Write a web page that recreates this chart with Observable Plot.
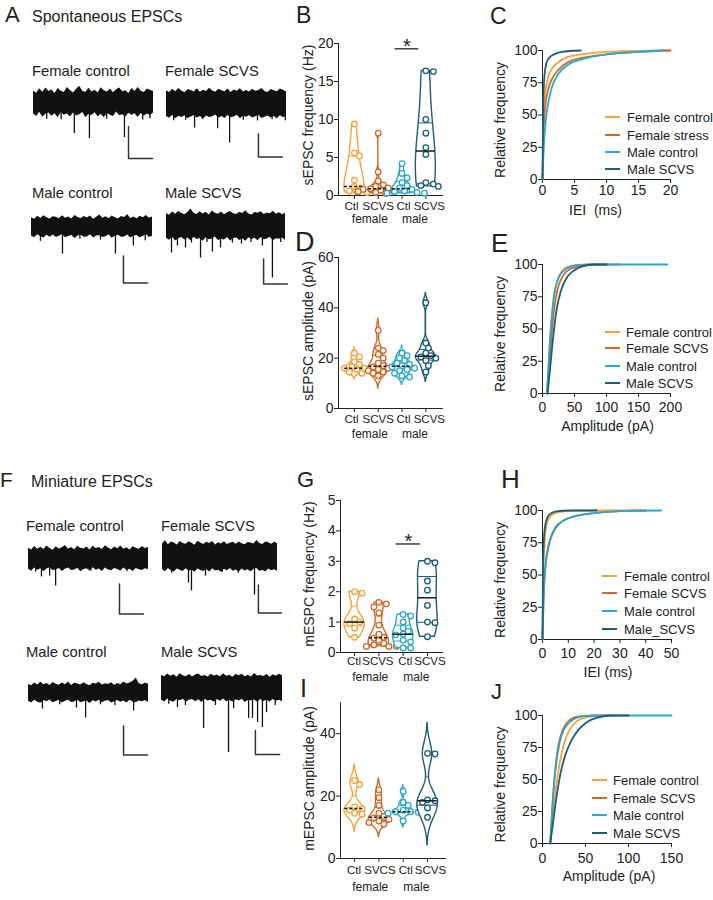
<!DOCTYPE html>
<html><head><meta charset="utf-8">
<script src="https://cdn.jsdelivr.net/npm/d3@7"></script>
<script src="https://cdn.jsdelivr.net/npm/@observablehq/plot@0.6"></script>
<style>
html,body{margin:0;padding:0;background:#fff;}
#fig{position:relative;width:713px;height:900px;overflow:hidden;background:#fff;font-family:"Liberation Sans",Arial,Helvetica,sans-serif;color:#222;}
.abs{position:absolute;line-height:1;white-space:pre;}
</style></head>
<body><div id="fig"></div>
<script>
// ================= DATA =================
const groupNames = ["Female control", "Female SCVS", "Male control", "Male SCVS"];
const catLabels = ["Ctl", "SCVS", "Ctl", "SCVS"];
const catLabelsI = ["Ctl", "SVCS", "Ctl", "SCVS"];
const sexLabels = ["female", "male"];
const legC = ["Female control", "Female stress", "Male control", "Male SCVS"];
const legE = ["Female control", "Female SCVS", "Male control", "Male SCVS"];
const legH = ["Female control", "Female SCVS", "Male control", "Male_SCVS"];
const legJ = ["Female control", "Female SCVS", "Male control", "Male SCVS"];

// B: sEPSC frequency (Hz)
const sFreqFemCtl = [9.4, 5.6, 5.2, 2.0, 1.2, 1.0, 0.6, 0.5, 0.4];
const sFreqFemSCVS = [8.2, 3.1, 1.9, 1.4, 1.2, 1.0, 0.9, 0.8, 0.7, 0.6, 0.5, 0.4, 0.3];
const sFreqMaleCtl = [4.2, 2.9, 2.3, 1.7, 1.3, 1.0, 0.8, 0.6, 0.5, 0.4, 0.3, 0.3];
const sFreqMaleSCVS = [16.4, 16.3, 10.0, 8.2, 6.3, 5.4, 1.7, 1.5, 1.3, 1.2];
// D: sEPSC amplitude (pA)
const sAmpFemCtl = [22, 20.5, 18.5, 17.5, 16.5, 16, 16, 15.5, 15, 14.5, 14];
const sAmpFemSCVS = [31, 24, 23, 21.5, 20, 18, 17, 16.5, 16, 15.5, 15, 14.5, 14, 13];
const sAmpMaleCtl = [22, 21, 20, 19, 18, 17.5, 17, 16.5, 16, 15.5, 15, 14, 13, 12.5];
const sAmpMaleSCVS = [42, 26, 24, 22, 21, 20.5, 20, 19, 17, 14.5];
// G: mEPSC frequency (Hz)
const mFreqFemCtl = [2.0, 1.95, 1.1, 1.0, 0.95, 0.8, 0.5];
const mFreqFemSCVS = [1.65, 1.6, 1.5, 1.3, 0.9, 0.6, 0.5, 0.47, 0.4, 0.3, 0.25, 0.2, 0.2, 0.2];
const mFreqMaleCtl = [1.25, 1.2, 1.0, 0.8, 0.7, 0.6, 0.58, 0.4, 0.35, 0.15, 0.15];
const mFreqMaleSCVS = [3.0, 2.95, 2.35, 2.05, 1.55, 1.0, 0.98, 0.52];
// I: mEPSC amplitude (pA)
const mAmpFemCtl = [25, 23.7, 16.5, 16, 15.5, 14.5, 14.2];
const mAmpFemSCVS = [22, 19.5, 17, 14.5, 13.5, 13, 12.5, 12, 11.5, 11];
const mAmpMaleCtl = [21.5, 18, 17, 15.5, 15, 15, 14.8, 14.5, 12];
const mAmpMaleSCVS = [33.7, 33.5, 18.8, 18.5, 18, 16.2, 13.2];

// Cumulative distributions [value, relative frequency %]
const cIEI_fc = [[0,0],[0.15,40],[0.4,65],[0.8,78],[1.5,86],[2.5,91],[4,95],[6,97],[10,99],[20,100]];
const cIEI_fs = [[0,0],[0.15,35],[0.4,55],[0.8,68],[1.5,78],[2.5,85],[4,91],[6,94],[10,97],[15,99],[20,100]];
const cIEI_mc = [[0,0],[0.2,25],[0.5,45],[1,62],[1.5,72],[2.5,82],[4,89],[6,93],[10,97],[15,99],[19,100]];
const cIEI_ms = [[0,0],[0.1,55],[0.3,80],[0.6,90],[1,94],[1.8,97],[3,99],[6,100]];

const eAmp_fc = [[7,0],[10,25],[14,55],[18,75],[23,87],[28,93],[35,97],[50,99.5],[70,100],[100,100]];
const eAmp_fs = [[7,0],[11,22],[15,50],[20,72],[26,85],[33,92],[45,97],[60,99],[90,100],[120,100]];
const eAmp_mc = [[7,0],[10,28],[14,57],[18,76],[23,87],[29,93],[38,97],[55,99.5],[80,100],[195,100]];
const eAmp_ms = [[8,0],[12,20],[17,45],[22,65],[29,80],[37,89],[48,95],[62,98.5],[80,100],[100,100]];

const hIEI_fc = [[0,0],[0.3,50],[0.8,75],[1.5,88],[2.5,94],[4,97],[7,99],[15,100],[40,100]];
const hIEI_fs = [[0,0],[0.4,30],[1,52],[2,68],[3,77],[5,86],[8,92],[12,95],[20,98],[30,99.5],[40,100]];
const hIEI_mc = [[0,0],[0.4,32],[1,55],[2,70],[3,78],[5,87],[8,92],[12,95.5],[20,98],[30,99.5],[46,100]];
const hIEI_ms = [[0,0],[0.2,55],[0.6,80],[1.2,90],[2,95],[3.5,98],[6,99.5],[10,100],[21,100]];

const jAmp_fc = [[9,0],[12,20],[16,45],[20,63],[25,78],[30,87],[36,93],[45,97.5],[60,99.5],[80,100]];
const jAmp_fs = [[9,0],[11,25],[14,52],[18,75],[23,88],[28,94],[35,98],[45,99.5],[60,100],[80,100]];
const jAmp_mc = [[9,0],[11,22],[14,50],[18,72],[23,86],[29,93],[36,97],[48,99.5],[70,100],[150,100]];
const jAmp_ms = [[9,0],[12,15],[16,35],[21,55],[27,70],[34,81],[42,89],[52,95],[65,98.5],[80,100],[100,100]];

// Example traces (pA): noise envelope (upper / lower edge) sampled evenly over 5 s, and events [t (s), pA]
const trA1_top = [7.2,5.8,8.6,6.4,9.0,6.9,7.8,5.6,8.8,7.1,6.2,9.4,7.5,6.0,8.3,10.1,7.0,6.3,8.9,6.6,7.7,5.9,9.2,7.3,6.5,8.4,6.1,7.9,9.1,6.7,7.4,5.7,8.7,6.8,9.3,7.0,6.2,8.5,7.6,6.9];
const trA1_bot = [-7.0,-8.8,-6.1,-9.2,-7.4,-6.5,-8.6,-7.1,-9.5,-6.3,-8.0,-7.2,-9.0,-6.6,-8.4,-7.7,-6.2,-9.3,-7.5,-8.1,-6.4,-8.9,-7.3,-9.6,-6.8,-7.9,-8.7,-6.0,-8.3,-7.6,-9.1,-6.7,-8.2,-7.0,-9.4,-6.9,-8.5,-7.2,-8.0,-6.6];
const trA1_evt = [[1.70,-19.4],[2.33,-22.5],[3.79,-21.9],[0.55,-10.5],[1.15,-10.8],[3.05,-10.5],[4.55,-11],[4.85,-10.2]];
const trA2_top = [11.0,9.6,12.4,10.3,13.0,10.8,9.4,12.1,11.3,10.0,12.8,9.8,11.6,10.5,13.2,10.9,9.7,12.3,11.1,10.2,12.6,9.5,11.8,10.6,12.9,10.1,11.4,9.9,12.5,10.7,11.2,13.1,10.4,9.6,12.2,11.0,10.3,12.7,11.5,10.0];
const trA2_bot = [-11.4,-12.9,-10.2,-13.3,-11.0,-12.1,-10.6,-13.0,-11.7,-10.4,-12.6,-11.2,-13.4,-10.8,-12.2,-11.5,-10.1,-12.8,-11.3,-13.1,-10.5,-12.4,-11.8,-10.3,-13.2,-11.1,-12.0,-10.7,-12.7,-11.6,-10.2,-13.0,-11.9,-10.9,-12.5,-11.4,-13.3,-10.6,-12.3,-11.0];
const trA2_evt = [[1.17,-21.3],[2.13,-22],[2.63,-34.3],[3.79,-15.2],[0.3,-15],[0.8,-14.5],[1.5,-14],[3.2,-14.5],[4.4,-14.2],[4.95,-15]];
const trA3_top = [6.5,5.3,7.6,6.0,8.0,6.4,5.5,7.3,6.8,5.8,7.9,6.2,7.0,5.6,8.2,6.6,5.9,7.4,6.3,7.8,5.4,6.9,8.5,6.1,7.2,5.7,7.7,6.4,5.5,7.5,6.7,8.9,6.0,7.1,5.8,7.6,6.5,8.1,6.2,7.0];
const trA3_bot = [-7.0,-8.3,-6.1,-7.6,-8.6,-6.5,-7.9,-6.3,-8.1,-7.2,-6.0,-8.4,-7.4,-6.6,-8.8,-7.1,-6.4,-8.0,-7.7,-6.2,-8.5,-7.0,-6.8,-8.2,-7.5,-6.1,-8.7,-7.3,-6.5,-8.0,-7.8,-6.3,-8.6,-7.1,-6.7,-8.3,-7.4,-6.0,-8.1,-7.2];
const trA3_evt = [[1.28,-20.4],[3.47,-20.4],[4.21,-14.4],[0.37,-11],[2.85,-10],[4.7,-10.5],[2.0,-9.5]];
const trA4_top = [9.5,8.2,10.8,9.0,11.4,9.7,8.6,10.5,13.2,9.9,8.8,11.0,9.3,10.6,8.5,11.6,9.8,9.1,10.9,8.7,10.2,11.3,9.4,8.9,10.7,9.6,11.8,9.2,8.4,10.4,9.9,11.1,8.8,10.0,9.5,11.5,9.0,10.3,8.6,9.8];
const trA4_bot = [-10.2,-11.8,-9.3,-12.4,-10.6,-9.6,-11.5,-10.0,-12.2,-9.4,-11.1,-10.4,-12.6,-9.8,-11.3,-10.7,-9.2,-12.0,-10.9,-11.6,-9.5,-12.3,-10.3,-9.9,-11.9,-10.5,-12.5,-9.7,-11.2,-10.1,-12.1,-9.6,-11.4,-10.8,-9.3,-12.2,-10.6,-11.0,-9.9,-11.7];
const trA4_evt = [[0.21,-22],[0.46,-16.4],[0.8,-18],[1.43,-26],[1.93,-21.2],[2.27,-18],[2.77,-14],[3.15,-14.8],[4.03,-16.4],[4.45,-42],[1.05,-14],[1.7,-13.5],[3.55,-13.5],[4.8,-13.5]];
const trF1_top = [6.8,5.6,8.0,6.2,7.5,6.0,8.4,6.7,5.5,7.8,6.4,7.1,8.6,6.1,7.3,5.8,8.2,6.9,6.3,7.7,5.7,8.1,6.6,7.4,6.0,8.5,7.0,5.9,7.6,6.5,8.3,6.2,7.2,5.6,7.9,6.8,6.1,8.0,6.7,7.3];
const trF1_bot = [-7.2,-8.5,-6.4,-7.9,-6.8,-8.8,-7.0,-6.2,-8.2,-7.5,-6.6,-8.6,-7.1,-6.3,-8.0,-7.7,-6.5,-8.9,-7.3,-6.9,-8.3,-6.1,-7.8,-7.0,-8.7,-6.4,-7.6,-8.1,-6.7,-7.4,-8.4,-6.3,-7.9,-7.1,-8.6,-6.6,-7.5,-8.0,-6.9,-7.3];
const trF1_evt = [[0.54,-12.3],[0.88,-11.7],[1.13,-18.3],[0.3,-9],[2.6,-8.5],[4.1,-8.8]];
const trF2_top = [9.0,11.2,8.4,10.3,9.6,8.2,10.8,9.2,8.7,10.5,9.4,8.1,10.9,9.7,8.5,10.1,9.3,10.7,8.3,9.9,9.0,10.6,8.6,9.5,10.2,8.8,10.4,9.1,8.4,10.0,9.6,8.9,11.5,9.3,8.5,10.3,9.8,8.7,10.1,9.2];
const trF2_bot = [-9.5,-10.9,-8.6,-10.2,-11.1,-9.0,-9.9,-10.7,-8.8,-10.5,-9.6,-11.2,-8.9,-10.0,-10.8,-9.3,-11.0,-8.7,-10.4,-9.8,-11.3,-9.1,-10.1,-8.5,-10.6,-9.7,-11.0,-8.9,-10.3,-9.4,-10.9,-9.2,-8.6,-10.7,-9.9,-11.1,-9.0,-10.2,-9.5,-10.5];
const trF2_evt = [[1.13,-18.9],[1.26,-24.6],[1.87,-14],[4.0,-27.5],[0.4,-12],[2.6,-11.5],[3.3,-12]];
const trF3_top = [5.6,4.6,6.6,5.1,7.0,5.4,6.2,4.8,6.9,5.7,5.0,6.5,5.3,7.2,4.9,6.3,5.8,5.2,6.8,5.5,4.7,6.4,5.9,7.1,5.1,6.0,5.6,6.7,4.8,6.2,5.4,7.3,5.9,6.5,7.8,10.0,6.1,5.3,6.6,5.7];
const trF3_bot = [-6.1,-7.2,-5.3,-6.7,-7.4,-5.6,-6.4,-5.2,-7.0,-6.2,-5.5,-7.3,-6.0,-5.4,-6.9,-6.5,-5.1,-7.1,-6.3,-5.8,-7.5,-5.7,-6.6,-5.3,-7.0,-6.1,-5.6,-7.2,-6.4,-5.5,-6.8,-5.9,-7.3,-5.4,-6.5,-7.0,-5.8,-6.3,-5.5,-6.9];
const trF3_evt = [[0.58,-11.4],[2.0,-10.7],[2.38,-17.6],[4.38,-12.8],[1.3,-8.5],[3.0,-8.5],[3.6,-9]];
const trF4_top = [10.0,8.9,11.2,9.4,10.7,8.6,11.5,9.8,9.0,10.9,8.8,10.4,11.3,9.2,10.1,8.7,11.0,9.6,10.5,8.9,11.4,9.3,10.2,8.5,10.8,9.7,11.1,9.0,10.3,8.8,11.6,9.5,10.0,9.1,10.9,8.6,10.6,9.4,11.0,9.8];
const trF4_bot = [-10.5,-12.0,-9.6,-11.4,-12.3,-10.1,-11.0,-9.8,-12.1,-10.7,-9.9,-11.8,-10.3,-12.4,-9.7,-11.2,-10.6,-12.2,-10.0,-11.5,-9.5,-11.9,-10.8,-12.0,-10.2,-11.3,-9.8,-12.5,-10.9,-11.1,-10.4,-12.2,-9.9,-11.6,-10.5,-12.1,-10.0,-11.4,-10.7,-11.8];
const trF4_evt = [[0.66,-16.7],[1.74,-34.2],[2.77,-54.2],[2.98,-17.5],[3.6,-25.8],[3.76,-25.8],[3.97,-29.2],[4.17,-33.3],[4.34,-21],[0.99,-15],[2.23,-15],[0.3,-14],[4.7,-15]];
const traceDuration = 5;       // s
const scaleBarPA = 20;         // pA
const scaleBarS = 1;           // s

// ================= STYLE / LAYOUT =================
const FONT = '"Liberation Sans", Arial, Helvetica, sans-serif';
const COLORS = ["#F7A23E", "#CF6A2A", "#2CA7CF", "#1E5D78"];
const STYLE = {fontFamily: FONT, fontSize: "14px", background: "transparent", overflow: "visible", color: "#222"};
const fig = document.getElementById("fig");

function addText(str, left, baseline, fs) {
  const d = document.createElement("div");
  d.className = "abs";
  d.textContent = str;
  d.style.left = left + "px";
  d.style.top = (baseline - 0.8465 * fs) + "px";
  d.style.fontSize = fs + "px";
  fig.appendChild(d);
}
function place(node, left, top) {
  node.style.position = "absolute";
  node.style.left = left + "px";
  node.style.top = top + "px";
  fig.appendChild(node);
}
function legend(labels, lineLeft, textLeft, rows) {
  labels.forEach((lab, i) => {
    const ln = document.createElement("div");
    ln.style.cssText = `position:absolute;left:${lineLeft}px;top:${rows[i] - 1}px;width:15px;height:2px;background:${COLORS[i]}`;
    fig.appendChild(ln);
    const fs = 13;
    const t = document.createElement("div");
    t.className = "abs";
    t.textContent = lab;
    t.style.left = textLeft + "px";
    t.style.top = (rows[i] - 0.4885 * fs) + "px";
    t.style.fontSize = fs + "px";
    fig.appendChild(t);
  });
}

// ---- traces ----
function traceChart(top, bot, evts, L) {
  const n = top.length;
  const edge = top.map((v, i) => ({t: i * traceDuration / (n - 1), top: v, bot: bot[i]}));
  const H = 95, above = 22;
  const bar = [[L.bar[0], L.bar[1]], [L.bar[0], L.bar[1] - scaleBarPA], [L.bar[0] + scaleBarS, L.bar[1] - scaleBarPA]];
  const svg = Plot.plot({
    width: L.x1 - L.x0, height: H, margin: 0,
    x: {domain: [0, traceDuration], axis: null},
    y: {domain: [-(H - above) / L.g, above / L.g], axis: null},
    style: STYLE,
    marks: [
      Plot.areaY(edge, {x: "t", y1: "bot", y2: "top", fill: "#111"}),
      Plot.ruleX(evts, {x: d => d[0], y1: d => 0, y2: d => d[1], stroke: "#111", strokeWidth: 1.3}),
      Plot.line(bar, {x: d => d[0], y: d => d[1], stroke: "#333", strokeWidth: 1.5})
    ]
  });
  place(svg, L.x0, L.base - above);
}

// ---- violins ----
function violinChart(cfg) {
  const L = cfg.L;
  const iw = L.w - L.mL - L.mR, ih = L.h - L.mT - L.mB;
  const pxX = iw / (L.xd[1] - L.xd[0]), pxY = ih / (cfg.yDomain[1] - cfg.yDomain[0]);
  const W = 0.42;
  const marks = [];
  cfg.groups.forEach((vals, i) => {
    const g = i + 1, col = COLORS[i];
    const s = vals.slice().sort(d3.ascending);
    const n = s.length;
    const sd = d3.deviation(s);
    const iqr = d3.quantile(s, 0.75) - d3.quantile(s, 0.25);
    const spread = iqr > 0 ? Math.min(sd, iqr / 1.34) : sd;
    const h = 0.9 * spread * Math.pow(n, -0.2) * cfg.bw;
    const dens = y => d3.mean(s, v => Math.exp(-0.5 * ((y - v) / h) ** 2));
    const lo = cfg.truncate ? s[0] : s[0] - 3 * h;
    const hi = cfg.truncate ? s[n - 1] : s[n - 1] + 3 * h;
    const ys = d3.range(161).map(k => lo + (hi - lo) * k / 160);
    const dmax = d3.max(ys, dens);
    const half = y => dens(y) / dmax * W;
    const shape = ys.map(y => ({y, x1: g - half(y), x2: g + half(y)}))
      .filter(d => cfg.truncate || (d.x2 - d.x1) > 0.01);
    marks.push(Plot.areaX(shape, {y: "y", x1: "x1", x2: "x2", fill: "white", stroke: col, strokeWidth: 1.4}));
    const q = [d3.quantile(s, 0.25), d3.quantile(s, 0.75)];
    marks.push(Plot.ruleY(q, {y: d => d, x1: d => g - half(d), x2: d => g + half(d), stroke: col, strokeWidth: 1}));
    // swarm layout of points
    const placed = [];
    s.slice().reverse().forEach(v => {
      for (let k = 0; k < 40; k++) {
        const off = (k === 0 ? 0 : (k % 2 ? 1 : -1) * Math.ceil(k / 2)) * 2.5;
        if (placed.every(p => Math.hypot(off - p.o, (v - p.v) * pxY) >= 5.4)) { placed.push({o: off, v}); break; }
      }
    });
    marks.push(Plot.dot(placed, {x: p => g + p.o / pxX, y: p => p.v, r: 2.8, stroke: col, fill: "white", strokeWidth: 1.3}));
    const med = d3.median(s);
    marks.push(Plot.ruleY([med], {y: d => d, x1: d => g - half(d), x2: d => g + half(d), stroke: "#1a1a1a", strokeWidth: 1.5,
      strokeDasharray: cfg.dashed[i] ? "3,2" : null}));
    // category label under the axis
    marks.push(Plot.text([cfg.cats[i]], {x: d => g, text: d => d, frameAnchor: "bottom", dx: cfg.catShift[i],
      dy: 3 + cfg.tickPad, lineAnchor: "top", fontSize: 11.5}));
  });
  sexLabels.forEach((t, k) => {
    marks.push(Plot.text([t], {x: d => 1.5 + 2 * k, text: d => d, frameAnchor: "bottom", dx: cfg.sexShift[k], dy: cfg.groupDy + 1.5, lineAnchor: "bottom", fontSize: 12}));
  });
  marks.push(Plot.text([cfg.title], {text: d => d, frameAnchor: "left", textAnchor: "middle", rotate: -90, dx: cfg.titleDx, dy: cfg.titleDy, lineAnchor: "bottom", fontSize: 14}));
  if (cfg.sig != null) {
    marks.push(Plot.ruleY([cfg.sig], {y: d => d, x1: d => 3, x2: d => 4, dx: -7, stroke: "#222", strokeWidth: 1.3}));
    marks.push(Plot.text(["*"], {x: d => 3.5, y: d => cfg.sig, text: d => d, dx: -7, dy: -2, fontSize: 20, lineAnchor: "middle"}));
  }
  const svg = Plot.plot({
    width: L.w, height: L.h, marginLeft: L.mL, marginRight: L.mR, marginTop: L.mT, marginBottom: L.mB,
    style: STYLE,
    x: {domain: L.xd, ticks: [1, 2, 3, 4], tickFormat: () => "", tickSize: 4, line: true, label: null},
    y: {domain: cfg.yDomain, ticks: cfg.yTicks, tickFormat: d => String(d), tickSize: 4, tickPadding: 1, line: true, label: null},
    marks
  });
  place(svg, L.left, L.top);
}

// ---- cumulative curves ----
function cdfChart(cfg) {
  const L = cfg.L;
  const marks = cfg.series.map((ser, i) => Plot.line(ser, {x: d => d[0], y: d => d[1], stroke: COLORS[i], strokeWidth: 1.8, curve: "monotone-x"}));
  marks.push(Plot.text([cfg.xTitle], {text: d => d, frameAnchor: "bottom", textAnchor: "middle", dx: cfg.xTitleDx, dy: cfg.xTitleDy, lineAnchor: "bottom", fontSize: 14}));
  marks.push(Plot.text(["Relative frequency"], {text: d => d, frameAnchor: "left", textAnchor: "middle", rotate: -90, dx: -38, dy: 5, lineAnchor: "bottom", fontSize: 14}));
  const svg = Plot.plot({
    width: L.w, height: L.h, marginLeft: L.mL, marginRight: L.mR, marginTop: L.mT, marginBottom: L.mB,
    style: STYLE,
    x: {domain: cfg.xDomain, ticks: cfg.xTicks, tickFormat: d => String(d), tickSize: 4, tickPadding: cfg.tickPad, line: true, label: null},
    y: {domain: [0, 100], ticks: [0, 25, 50, 75, 100], tickFormat: d => String(d), tickSize: 4, tickPadding: 1, line: true, label: null},
    marks
  });
  place(svg, L.left, L.top);
}

// ================= BUILD =================
[["A", 5, 23, 22], ["B", 296, 23, 23], ["C", 490, 24, 23], ["D", 295, 252, 27], ["E", 491, 252, 26],
 ["F", 0, 487, 21], ["G", 297, 488, 22], ["H", 501, 488, 26], ["I", 300, 697, 25], ["J", 491, 700, 22]]
  .forEach(([s, x, b, fs]) => addText(s, x, b, fs));
addText("Spontaneous EPSCs", 32, 23, 16);
addText("Miniature EPSCs", 31, 488, 16);
addText(groupNames[0], 32, 76.5, 14.8); addText(groupNames[1], 165, 76.5, 14.8);
addText(groupNames[2], 32, 199, 14.8);  addText(groupNames[3], 165, 199, 14.8);
addText(groupNames[0], 26, 531.5, 14.8); addText(groupNames[1], 161, 531.5, 14.8);
addText(groupNames[2], 26, 658, 14.8);  addText(groupNames[3], 161, 658, 14.8);

traceChart(trA1_top, trA1_bot, trA1_evt, {x0: 33, x1: 153, base: 102, g: 1.6, bar: [3.96, -15]});
traceChart(trA2_top, trA2_bot, trA2_evt, {x0: 166, x1: 286, base: 102.5, g: 1.15, bar: [3.83, -26.5]});
traceChart(trA3_top, trA3_bot, trA3_evt, {x0: 31, x1: 152, base: 225.5, g: 1.35, bar: [3.8, -21.9]});
traceChart(trA4_top, trA4_bot, trA4_evt, {x0: 166, x1: 285, base: 224.5, g: 1.25, bar: [4.08, -26.8]});
traceChart(trF1_top, trF1_bot, trF1_evt, {x0: 28, x1: 148, base: 557.5, g: 1.5, bar: [3.79, -17]});
traceChart(trF2_top, trF2_bot, trF2_evt, {x0: 162, x1: 277, base: 555.5, g: 1.4, bar: [4.17, -20.4]});
traceChart(trF3_top, trF3_bot, trF3_evt, {x0: 28, x1: 148, base: 691.5, g: 1.45, bar: [3.96, -23.1]});
traceChart(trF4_top, trF4_bot, trF4_evt, {x0: 161, x1: 282, base: 687, g: 1.2, bar: [3.88, -35.8]});

violinChart({groups: [sFreqFemCtl, sFreqFemSCVS, sFreqMaleCtl, sFreqMaleSCVS], yDomain: [0, 20], yTicks: [0, 5, 10, 15, 20],
  cats: catLabels, catShift: [-3, 0, 1.5, 3.5], sexShift: [3.5, 1], title: "sEPSC frequency (Hz)", truncate: true, dashed: [1, 1, 1, 0], sig: 19.3, bw: 1.2,
  titleDx: -26, titleDy: -4.5, tickPad: 3, groupDy: 25.5,
  L: {left: 290, top: 30, w: 160, h: 200, mL: 48, mR: 8, mT: 13, mB: 35, xd: [0.33, 4.7]}});
violinChart({groups: [sAmpFemCtl, sAmpFemSCVS, sAmpMaleCtl, sAmpMaleSCVS], yDomain: [0, 60], yTicks: [0, 20, 40, 60],
  cats: catLabels, catShift: [-3, 0, 1.5, 3.5], sexShift: [3.5, 1], title: "sEPSC amplitude (pA)", truncate: false, dashed: [1, 1, 1, 0], sig: null, bw: 0.9,
  titleDx: -26, titleDy: -2, tickPad: 3, groupDy: 28,
  L: {left: 290, top: 245, w: 160, h: 200, mL: 48, mR: 8, mT: 12, mB: 37, xd: [0.33, 4.7]}});
violinChart({groups: [mFreqFemCtl, mFreqFemSCVS, mFreqMaleCtl, mFreqMaleSCVS], yDomain: [0, 5], yTicks: [0, 1, 2, 3, 4, 5],
  cats: catLabels, catShift: [-0.5, -1, 2, 2.5], sexShift: [3.5, 1], title: "mESPC frequency (Hz)", truncate: true, dashed: [0, 1, 0, 0], sig: 3.57, bw: 0.9,
  titleDx: -27, titleDy: -2.5, tickPad: 1, groupDy: 27,
  L: {left: 290, top: 490, w: 160, h: 200, mL: 50, mR: 8, mT: 10, mB: 38, xd: [0.42, 4.62]}});
violinChart({groups: [mAmpFemCtl, mAmpFemSCVS, mAmpMaleCtl, mAmpMaleSCVS], yDomain: [0, 50], yTicks: [0, 20, 40],
  cats: catLabelsI, catShift: [-0.5, 1, 2.5, 3], sexShift: [3.5, 1], title: "mEPSC amplitude (pA)", truncate: false, dashed: [1, 1, 1, 0], sig: null, bw: 0.9,
  titleDx: -27, titleDy: -2, tickPad: 4.5, groupDy: 31,
  L: {left: 290, top: 690, w: 165, h: 210, mL: 50, mR: 10, mT: 12, mB: 42, xd: [0.42, 4.74]}});

cdfChart({series: [cIEI_fc, cIEI_fs, cIEI_mc, cIEI_ms], xDomain: [0, 20], xTicks: [0, 5, 10, 15, 20], xTitle: "IEI  (ms)",
  tickPad: 2, xTitleDx: -11, xTitleDy: 35, L: {left: 440, top: 30, w: 273, h: 200, mL: 102, mR: 43, mT: 20, mB: 51}});
cdfChart({series: [eAmp_fc, eAmp_fs, eAmp_mc, eAmp_ms], xDomain: [0, 200], xTicks: [0, 50, 100, 150, 200], xTitle: "Amplitude (pA)",
  tickPad: 4.5, xTitleDx: 1, xTitleDy: 37, L: {left: 440, top: 245, w: 273, h: 200, mL: 102, mR: 43, mT: 19, mB: 52}});
cdfChart({series: [hIEI_fc, hIEI_fs, hIEI_mc, hIEI_ms], xDomain: [0, 50], xTicks: [0, 10, 20, 30, 40, 50], xTitle: "IEI (ms)",
  tickPad: 5, xTitleDx: 1, xTitleDy: 37, L: {left: 440, top: 490, w: 273, h: 200, mL: 102, mR: 42, mT: 20, mB: 51}});
cdfChart({series: [jAmp_fc, jAmp_fs, jAmp_mc, jAmp_ms], xDomain: [0, 150], xTicks: [0, 50, 100, 150], xTitle: "Amplitude (pA)",
  tickPad: 5.5, xTitleDx: 2, xTitleDy: 37, L: {left: 440, top: 695, w: 273, h: 205, mL: 102, mR: 42, mT: 20, mB: 57}});

legend(legC, 605, 627, [117, 135, 152, 169]);
legend(legE, 605, 626, [332, 348, 366, 383]);
legend(legH, 602, 624, [576, 593, 611, 629]);
legend(legJ, 592, 613, [780, 798, 815, 833]);
</script>
</body></html>
